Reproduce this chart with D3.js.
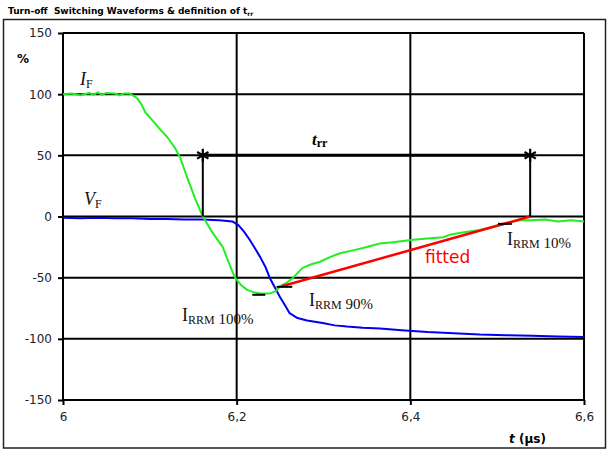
<!DOCTYPE html>
<html>
<head>
<meta charset="utf-8">
<script src="https://cdn.jsdelivr.net/npm/d3@7"></script>
<style>
  html, body { margin: 0; padding: 0; background: #fff; }
  svg { display: block; }
</style>
</head>
<body>
<svg id="chart" width="608" height="451"></svg>
<script>
// Forward current I_F (%) vs time (µs)
const ifTime = [6.000, 6.010, 6.020, 6.030, 6.035, 6.040, 6.045, 6.050, 6.060, 6.065, 6.070, 6.077,
  6.085, 6.090, 6.095, 6.105, 6.112, 6.120, 6.129, 6.135, 6.143, 6.152, 6.161, 6.172, 6.184, 6.191,
  6.198, 6.205, 6.212, 6.220, 6.227, 6.238, 6.245, 6.250, 6.258, 6.265, 6.276, 6.286, 6.296, 6.308,
  6.319, 6.335, 6.350, 6.365, 6.380, 6.403, 6.420, 6.438, 6.445, 6.460, 6.480, 6.503, 6.520, 6.526,
  6.540, 6.555, 6.570, 6.585, 6.600];
const ifValue = [100, 100.5, 99, 101, 99.5, 101.5, 99.5, 101, 100.5, 99, 100.5, 100.5,
  97, 92, 85, 77, 71, 65, 56, 48, 32, 15, 0, -13, -25, -38,
  -50, -56, -60, -62, -63, -63, -61, -57, -54, -50, -42, -39, -37, -33,
  -30, -27.5, -25, -22, -21, -19, -18, -17, -15, -13, -11, -7, -4, -3,
  -3, -2.5, -4, -3, -4];

// Forward voltage V_F (%) vs time (µs)
const vfTime = [6.000, 6.020, 6.040, 6.060, 6.080, 6.100, 6.120, 6.140, 6.160, 6.180, 6.195, 6.202,
  6.208, 6.215, 6.221, 6.227, 6.233, 6.238, 6.244, 6.250, 6.256, 6.261, 6.270, 6.281, 6.290, 6.299,
  6.313, 6.327, 6.345, 6.365, 6.390, 6.420, 6.450, 6.480, 6.510, 6.540, 6.570, 6.600];
const vfValue = [-1, -1.5, -1, -1.5, -1.5, -2, -2, -2.5, -2.5, -3, -4, -7,
  -12, -19, -26, -33, -41, -50, -58, -66, -73, -79, -83, -85, -86, -87,
  -89, -90, -91, -91.5, -93, -94.5, -95.5, -96.5, -97, -97.5, -98, -98.5];

// Fitted line through the 90 % and 10 % points of I_RRM
const fittedTime = [6.252, 6.538];
const fittedValue = [-57, 0];

// Level markers: [t start, t end, value, label]
const markerLevels = [
  [6.218, 6.233, -64, "100%"],
  [6.246, 6.264, -57.5, "90%"],
  [6.501, 6.517, -6, "10%"]
];

// Reverse recovery time interval
const trrStart = 6.161;
const trrEnd = 6.538;
const trrLevel = 50;

const xTicks = [6, 6.2, 6.4, 6.6];
const xTickLabels = ["6", "6,2", "6,4", "6,6"];
const yTicks = [-150, -100, -50, 0, 50, 100, 150];
const yTickLabels = ["-150", "-100", "-50", "0", "50", "100", "150"];

const svg = d3.select("#chart");
const plotLeft = 63, plotRight = 584, plotTop = 33, plotBottom = 400;

const x = d3.scaleLinear().domain([6, 6.6]).range([plotLeft, plotRight]);
const y = d3.scaleLinear().domain([-150, 150]).range([plotBottom, plotTop]);

// outer frame
svg.append("rect")
  .attr("x", 3.5).attr("y", 19.5).attr("width", 602).attr("height", 428.5)
  .attr("fill", "none").attr("stroke", "#222").attr("stroke-width", 1.5);

// title
const title = svg.append("text")
  .attr("x", 8).attr("y", 14)
  .attr("font-family", "DejaVu Sans, Verdana, sans-serif")
  .attr("font-weight", "bold").attr("font-size", 9).attr("fill", "#000")
  .attr("xml:space", "preserve");
title.append("tspan").text("Turn-off  Switching Waveforms & definition of t");
title.append("tspan").attr("font-size", 6).attr("dy", 2).text("rr");

// grid
const grid = svg.append("g").attr("stroke", "#000").attr("stroke-width", 2);
grid.selectAll("line.h").data(yTicks).join("line")
  .attr("x1", plotLeft).attr("x2", plotRight)
  .attr("y1", d => y(d)).attr("y2", d => y(d));
grid.selectAll("line.v").data(xTicks).join("line")
  .attr("y1", plotTop).attr("y2", plotBottom)
  .attr("x1", d => x(d)).attr("x2", d => x(d));

// axes
const axisFont = "DejaVu Sans, Verdana, sans-serif";
const yAxis = svg.append("g").attr("transform", `translate(${plotLeft},0)`)
  .call(d3.axisLeft(y).tickValues(yTicks).tickSize(5).tickPadding(6)
    .tickFormat((d, i) => yTickLabels[i]));
const xAxis = svg.append("g").attr("transform", `translate(0,${plotBottom})`)
  .call(d3.axisBottom(x).tickValues(xTicks).tickSize(5).tickPadding(7)
    .tickFormat((d, i) => xTickLabels[i]));
[yAxis, xAxis].forEach(a => {
  a.select(".domain").remove();
  a.selectAll(".tick line").attr("stroke", "#000").attr("stroke-width", 2);
  a.selectAll(".tick text").attr("font-family", axisFont).attr("font-size", 12).attr("fill", "#222");
});

// axis titles
svg.append("text").attr("x", 17).attr("y", 63)
  .attr("font-family", axisFont).attr("font-weight", "bold").attr("font-size", 12)
  .text("%");
const xt = svg.append("text").attr("x", 509).attr("y", 443)
  .attr("font-family", axisFont).attr("font-weight", "bold").attr("font-size", 12);
xt.append("tspan").attr("font-style", "italic").text("t");
xt.append("tspan").text(" (µs)");

// curves
const line = d3.line().x(d => x(d[0])).y(d => y(d[1]));
const plot = svg.append("g");

plot.append("path")
  .datum(vfTime.map((t, i) => [t, vfValue[i]]))
  .attr("d", line).attr("fill", "none")
  .attr("stroke", "#0000ee").attr("stroke-width", 2).attr("stroke-linejoin", "round");

plot.append("path")
  .datum(ifTime.map((t, i) => [t, ifValue[i]]))
  .attr("d", line).attr("fill", "none")
  .attr("stroke", "#22ee22").attr("stroke-width", 2).attr("stroke-linejoin", "round");

plot.append("path")
  .datum(fittedTime.map((t, i) => [t, fittedValue[i]]))
  .attr("d", line).attr("fill", "none")
  .attr("stroke", "#ff0000").attr("stroke-width", 2.5);

// level marker dashes
plot.selectAll("line.mk").data(markerLevels).join("line")
  .attr("x1", d => x(d[0])).attr("x2", d => x(d[1]))
  .attr("y1", d => y(d[2])).attr("y2", d => y(d[2]))
  .attr("stroke", "#000").attr("stroke-width", 2);

// t_rr interval
plot.append("line")
  .attr("x1", x(trrStart)).attr("x2", x(trrEnd))
  .attr("y1", y(trrLevel)).attr("y2", y(trrLevel))
  .attr("stroke", "#000").attr("stroke-width", 3);
plot.selectAll("line.drop").data([trrStart, trrEnd]).join("line")
  .attr("x1", d => x(d)).attr("x2", d => x(d))
  .attr("y1", y(trrLevel)).attr("y2", y(0))
  .attr("stroke", "#000").attr("stroke-width", 2);
plot.selectAll("path.star").data([trrStart, trrEnd]).join("path")
  .attr("transform", d => `translate(${x(d)},${y(trrLevel)})`)
  .attr("d", d3.symbol(d3.symbolAsterisk, 120))
  .attr("fill", "none").attr("stroke", "#000").attr("stroke-width", 2.2);

// labels
const serif = "Liberation Serif, Times New Roman, serif";
const trr = svg.append("text").attr("x", 312).attr("y", 145)
  .attr("font-family", serif).attr("font-weight", "bold");
trr.append("tspan").attr("font-style", "italic").attr("font-size", 17).text("t");
trr.append("tspan").attr("font-size", 12).attr("dy", 2).text("rr");

function subLabel(px, py, main, sub, italic) {
  const t = svg.append("text").attr("x", px).attr("y", py)
    .attr("font-family", serif).attr("fill", "#111");
  t.append("tspan").attr("font-size", 18).attr("font-style", italic ? "italic" : "normal").text(main);
  t.append("tspan").attr("font-size", 12).attr("dy", 3).text(sub);
  return t;
}
subLabel(80, 85, "I", "F", true);
subLabel(84, 205, "V", "F", true);

const irrmPos = [[182, 321], [309, 306], [507, 245]];
markerLevels.forEach((m, i) => {
  const t = subLabel(irrmPos[i][0], irrmPos[i][1], "I", "RRM", false);
  t.append("tspan").attr("font-size", 15).attr("dy", 0).text(" " + m[3]);
});

svg.append("text").attr("x", 425).attr("y", 263)
  .attr("font-family", "DejaVu Sans, Verdana, sans-serif").attr("font-size", 17)
  .attr("fill", "#ff0000").text("fitted");
</script>
</body>
</html>
